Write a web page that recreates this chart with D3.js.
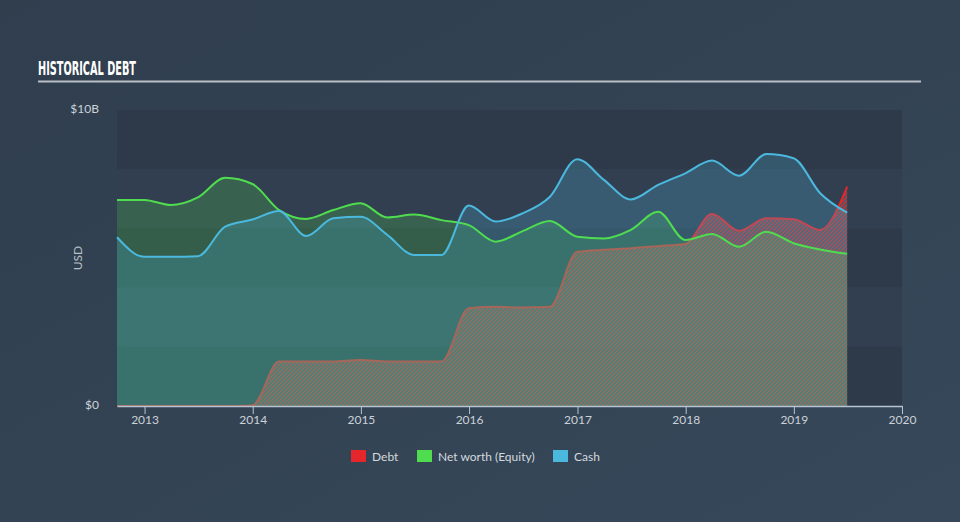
<!DOCTYPE html>
<html>
<head>
<meta charset="utf-8">
<script src="https://cdn.jsdelivr.net/npm/d3@7"></script>
<style>
  html, body { margin: 0; padding: 0; background: #344354; }
  svg { display: block; }
</style>
</head>
<body>
<svg id="chart" width="960" height="522"></svg>
<script>
const dates = ["2012-09-30","2012-12-31","2013-03-31","2013-06-30","2013-09-30","2013-12-31",
  "2014-03-31","2014-06-30","2014-09-30","2014-12-31","2015-03-31","2015-06-30","2015-09-30","2015-12-31",
  "2016-03-31","2016-06-30","2016-09-30","2016-12-31","2017-03-31","2017-06-30","2017-09-30","2017-12-31",
  "2018-03-31","2018-06-30","2018-09-30","2018-12-31","2019-03-31","2019-06-30"];
// values in $B
const debt   = [0,0,0,0,0,0.02, 1.50,1.50,1.50,1.55,1.50,1.50,1.50,3.30, 3.35,3.33,3.35,5.21,5.28,5.33,5.40,5.47, 6.49,5.92,6.34,6.31,5.95,7.41];
const equity = [6.96,6.96,6.79,7.05,7.71,7.50, 6.62,6.32,6.62,6.85,6.37,6.47,6.28,6.11, 5.55,5.91,6.25,5.72,5.66,5.95,6.56,5.61, 5.81,5.38,5.89,5.50,5.29,5.14];
const cash   = [5.70,5.04,5.04,5.06,6.06,6.30, 6.59,5.74,6.34,6.39,5.78,5.10,5.10,6.77, 6.23,6.51,7.07,8.34,7.64,6.98,7.47,7.86, 8.29,7.78,8.51,8.37,7.19,6.53];
const yTickValues = [0, 10];
const yTickLabels = ["$0", "$10B"];
const legendLabels = ["Debt", "Net worth (Equity)", "Cash"];
const colors = { debt: "#e5262a", equity: "#4fdc4f", cash: "#4bb9de" };

const parse = d3.timeParse("%Y-%m-%d");
const data = dates.map((d, i) => ({ date: parse(d), debt: debt[i], equity: equity[i], cash: cash[i] }));

const svg = d3.select("#chart");
const W = 960, H = 522;
const m = { left: 117, right: 902, top: 110, bottom: 406 };

// background gradient
const defs = svg.append("defs");
const bg = defs.append("linearGradient").attr("id", "bg").attr("x1", 0).attr("y1", 0).attr("x2", 1).attr("y2", 1);
bg.append("stop").attr("offset", "0%").attr("stop-color", "#303e4e");
bg.append("stop").attr("offset", "100%").attr("stop-color", "#36485a");
svg.append("rect").attr("width", W).attr("height", H).attr("fill", "url(#bg)");

const hatch = defs.append("pattern").attr("id", "hatch").attr("patternUnits", "userSpaceOnUse")
  .attr("width", 4).attr("height", 4);
hatch.append("rect").attr("width", 4).attr("height", 4).attr("fill", "#8f9890").attr("fill-opacity", 0.27);
hatch.append("path").attr("d", "M0,4 L4,0 M-1,1 L1,-1 M3,5 L5,3")
  .attr("stroke", colors.debt).attr("stroke-width", 1.1).attr("stroke-opacity", 1);

const x = d3.scaleTime().domain([parse("2012-09-30"), parse("2020-01-01")]).range([m.left, m.right]);
const y = d3.scaleLinear().domain([0, 10]).range([m.bottom, m.top]);

// title
svg.append("text").attr("x", 38).attr("y", 75).text("HISTORICAL DEBT")
  .attr("fill", "#ffffff").attr("font-family", "'Liberation Sans Narrow','DejaVu Sans Condensed',sans-serif")
  .attr("font-weight", "bold").attr("font-size", 19).attr("textLength", 98).attr("lengthAdjust", "spacingAndGlyphs");
svg.append("line").attr("x1", 38).attr("x2", 921).attr("y1", 81.5).attr("y2", 81.5)
  .attr("stroke", "#b9bfc6").attr("stroke-width", 2);

// bands
for (let i = 0; i < 5; i++) {
  const v0 = 10 - i * 2, v1 = v0 - 2;
  svg.append("rect").attr("x", m.left).attr("width", m.right - m.left)
    .attr("y", y(v0)).attr("height", y(v1) - y(v0))
    .attr("fill", i % 2 === 0 ? "#2e3a4a" : "#323f50");
}

const curve = d3.curveMonotoneX;
const area = key => d3.area().x(d => x(d.date)).y0(y(0)).y1(d => y(d[key])).curve(curve);
const line = key => d3.line().x(d => x(d.date)).y(d => y(d[key])).curve(curve);

// debt (underneath)
svg.append("path").datum(data).attr("d", area("debt")).attr("fill", "url(#hatch)");
svg.append("path").datum(data).attr("d", line("debt")).attr("fill", "none")
  .attr("stroke", colors.debt).attr("stroke-width", 2);

// equity & cash fills
svg.append("path").datum(data).attr("d", area("equity")).attr("fill", colors.equity).attr("fill-opacity", 0.22);
svg.append("path").datum(data).attr("d", area("cash")).attr("fill", colors.cash).attr("fill-opacity", 0.24);

svg.append("path").datum(data).attr("d", line("equity")).attr("fill", "none")
  .attr("stroke", colors.equity).attr("stroke-width", 2);
svg.append("path").datum(data).attr("d", line("cash")).attr("fill", "none")
  .attr("stroke", colors.cash).attr("stroke-width", 2);

// x axis
const xAxis = d3.axisBottom(x).ticks(d3.timeYear.every(1)).tickFormat(d3.timeFormat("%Y")).tickSize(8).tickSizeOuter(0);
const gx = svg.append("g").attr("transform", `translate(0,${m.bottom})`).call(xAxis);
gx.select(".domain").attr("stroke", "#b7c4d1").attr("stroke-width", 1.5);
gx.selectAll(".tick line").attr("stroke", "#b7c4d1").attr("stroke-width", 1);
gx.selectAll(".tick text").attr("fill", "#ccd2d8").attr("font-size", 12)
  .attr("font-family", "Lato, 'Open Sans', sans-serif").attr("dy", "0.55em");

// y axis labels
const yAxis = d3.axisLeft(y).tickValues(yTickValues).tickFormat((d, i) => yTickLabels[i]).tickSize(0);
const gy = svg.append("g").attr("transform", `translate(${m.left - 15},0)`).call(yAxis);
gy.select(".domain").remove();
gy.selectAll(".tick text").attr("fill", "#ccd2d8").attr("font-size", 12)
  .attr("font-family", "Lato, 'Open Sans', sans-serif").attr("dy", "0.2em");
svg.append("text").attr("transform", `translate(82,${(m.top + m.bottom) / 2}) rotate(-90)`)
  .attr("text-anchor", "middle").attr("fill", "#b9c0c8").attr("font-size", 12)
  .attr("font-family", "Lato, 'Open Sans', sans-serif").text("USD");

// legend
const legendX = [351, 417, 553];
const legendColors = [colors.debt, colors.equity, colors.cash];
legendLabels.forEach((lab, i) => {
  svg.append("rect").attr("x", legendX[i]).attr("y", 450).attr("width", 15).attr("height", 12).attr("fill", legendColors[i]);
  svg.append("text").attr("x", legendX[i] + 21).attr("y", 460.5).text(lab)
    .attr("fill", "#d3d8dd").attr("font-size", 12).attr("font-family", "Lato, 'Open Sans', sans-serif");
});
</script>
</body>
</html>
